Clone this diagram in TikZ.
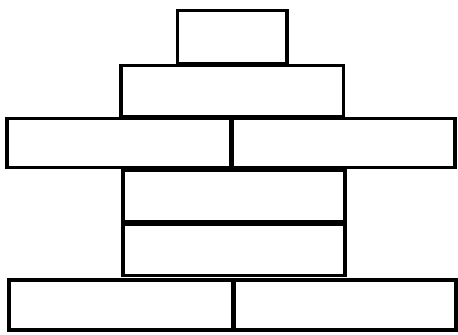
\documentclass[tikz,border=0pt]{standalone}
\usepackage{tikz}

\begin{document}
\begin{tikzpicture}[
        x=0.02cm,
        y=-0.02cm,
        block/.style={draw=black, line width=2.1pt, fill=white}
    ]
        \useasboundingbox (0,0) rectangle (458,335);

        % top of the stack
        \draw[block] (177.5,10.5) rectangle (287,64);
        \draw[block] (121,65.5) rectangle (343.5,116.5);

        % wide row
        \draw[block] (7,118.5) rectangle (230.5,167.5);
        \draw[block] (232,118.5) rectangle (455,167.5);

        % middle pair
        \draw[block] (123,170) rectangle (345,222);
        \draw[block] (123,224.5) rectangle (345,275.5);

        % base row
        \draw[block] (9,280) rectangle (232.5,330);
        \draw[block] (234,280) rectangle (456,330);
    \end{tikzpicture}
\end{document}
